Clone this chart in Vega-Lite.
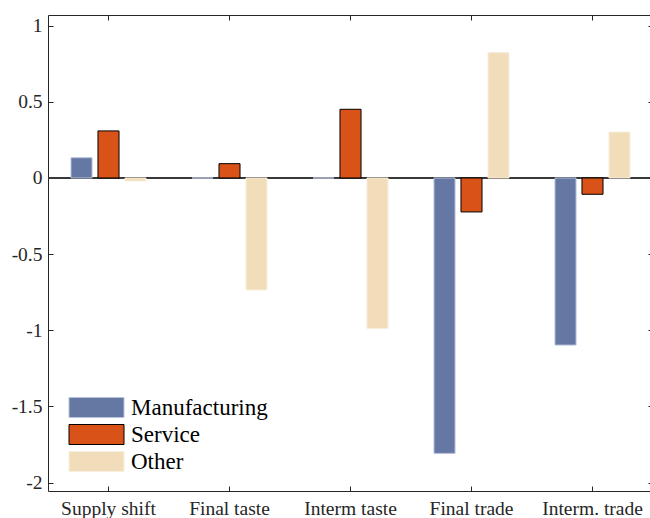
{
  "$schema": "https://vega.github.io/schema/vega-lite/v6.json",
  "autosize": {"type": "none"},
  "padding": {"left": 48, "top": 15, "right": 0, "bottom": 27},
  "width": 605,
  "height": 476,
  "config": {
    "view": {"stroke": "#262626", "strokeWidth": 1},
    "font": "Liberation Serif",
    "text": {"font": "Liberation Serif"},
    "axis": {"labelFont": "Liberation Serif"},
    "legend": {"labelFont": "serif", "titleFont": "serif"}
  },
  "data": {
    "values": [
      {"Shock": "Supply shift", "Sector": "Manufacturing", "Value": 0.133},
      {"Shock": "Supply shift", "Sector": "Service", "Value": 0.309},
      {"Shock": "Supply shift", "Sector": "Other", "Value": -0.02},
      {"Shock": "Final taste", "Sector": "Manufacturing", "Value": 0},
      {"Shock": "Final taste", "Sector": "Service", "Value": 0.094},
      {"Shock": "Final taste", "Sector": "Other", "Value": -0.735},
      {"Shock": "Interm taste", "Sector": "Manufacturing", "Value": 0},
      {"Shock": "Interm taste", "Sector": "Service", "Value": 0.451},
      {"Shock": "Interm taste", "Sector": "Other", "Value": -0.989},
      {"Shock": "Final trade", "Sector": "Manufacturing", "Value": -1.808},
      {"Shock": "Final trade", "Sector": "Service", "Value": -0.223},
      {"Shock": "Final trade", "Sector": "Other", "Value": 0.823},
      {"Shock": "Interm. trade", "Sector": "Manufacturing", "Value": -1.097},
      {"Shock": "Interm. trade", "Sector": "Service", "Value": -0.107},
      {"Shock": "Interm. trade", "Sector": "Other", "Value": 0.302}
    ]
  },
  "layer": [
    {
      "mark": {"type": "rule", "color": "#3a3a3a", "strokeWidth": 1},
      "encoding": {
        "y": {"datum": 0, "type": "quantitative", "axis": null}
      }
    },
    {
      "mark": {"type": "bar", "strokeWidth": 1},
      "encoding": {
        "x": {
          "field": "Shock",
          "type": "nominal",
          "sort": null,
          "scale": {"paddingInner": 0.38, "paddingOuter": 0.19},
          "axis": {
            "title": null,
            "domain": false,
            "labelAngle": 0,
            "labelFont": "Liberation Serif",
            "labelFontSize": 19.5,
            "labelColor": "#262626",
            "tickColor": "#262626",
            "tickSize": -5,
            "labelPadding": 13
          }
        },
        "xOffset": {
          "field": "Sector",
          "type": "nominal",
          "sort": ["Manufacturing", "Service", "Other"],
          "scale": {"paddingInner": 0.22, "paddingOuter": 0}
        },
        "y": {
          "field": "Value",
          "type": "quantitative",
          "scale": {"domain": [-2.055, 1.07], "nice": false, "zero": false},
          "axis": {
            "title": null,
            "domain": false,
            "grid": false,
            "values": [-2, -1.5, -1, -0.5, 0, 0.5, 1],
            "labelExpr": "'' + datum.value",
            "labelFont": "Liberation Serif",
            "labelFontSize": 19.5,
            "labelColor": "#262626",
            "tickColor": "#262626",
            "tickSize": -5,
            "labelPadding": 11
          }
        },
        "fill": {
          "field": "Sector",
          "type": "nominal",
          "sort": ["Manufacturing", "Service", "Other"],
          "scale": {"range": ["#6578a4", "#d95319", "#f2ddbb"]},
          "legend": {
            "orient": "none",
            "legendX": 37,
            "legendY": 381,
            "padding": 0,
            "title": null,
            "symbolType": "M-2.75,-1H2.75V1H-2.75Z",
            "symbolSize": 400,
            "symbolOpacity": 1,
            "labelFont": "serif",
            "labelFontSize": 23,
            "labelColor": "#000000",
            "labelOffset": 23,
            "rowPadding": 2,
            "encode": {
              "symbols": {
                "update": {
                  "stroke": {"signal": "datum.label === 'Service' ? '#000000' : datum.label === 'Manufacturing' ? '#b8c2da' : '#f8eedd'"},
                  "strokeWidth": {"value": 1}
                }
              }
            }
          }
        },
        "stroke": {
          "field": "Sector",
          "type": "nominal",
          "sort": ["Manufacturing", "Service", "Other"],
          "scale": {"range": ["#b8c2da", "#000000", "#f8eedd"]},
          "legend": null
        }
      }
    },
    {
      "mark": {"type": "bar", "opacity": 0},
      "encoding": {
        "x": {
          "field": "Shock",
          "type": "nominal",
          "sort": null,
          "axis": {
            "orient": "top",
            "title": null,
            "domain": false,
            "labels": false,
            "tickColor": "#262626",
            "tickSize": -5
          }
        },
        "y": {
          "field": "Value",
          "type": "quantitative",
          "axis": {
            "orient": "right",
            "title": null,
            "domain": false,
            "grid": false,
            "labels": false,
            "values": [-2, -1.5, -1, -0.5, 0, 0.5, 1],
            "tickColor": "#262626",
            "tickSize": -5
          }
        }
      }
    }
  ],
  "resolve": {"axis": {"x": "independent", "y": "independent"}}
}
